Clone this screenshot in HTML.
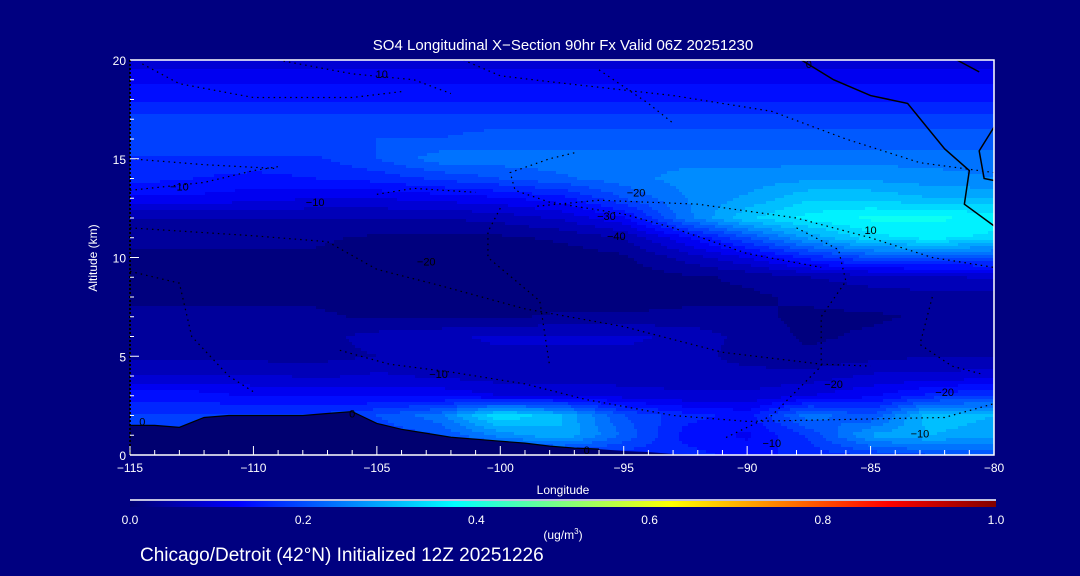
<!DOCTYPE html>
<html><head><meta charset="utf-8">
<style>
html,body{margin:0;padding:0;background:#000080;}
svg{display:block;font-family:"Liberation Sans",sans-serif;}
</style></head>
<body>
<svg id="chart" width="1080" height="576" viewBox="0 0 1080 576">
<rect x="0" y="0" width="1080" height="576" fill="#000080"/>
<g id="field"></g>
<g id="terrain"></g>
<g id="contours"></g>
<g id="axes"></g>
<text x="563" y="50" fill="#fff" font-size="15" text-anchor="middle">SO4 Longitudinal X−Section 90hr  Fx Valid 06Z 20251230</text>
<text transform="translate(97,258) rotate(-90)" fill="#fff" font-size="12" text-anchor="middle">Altitude (km)</text>
<text x="563" y="494" fill="#fff" font-size="12" text-anchor="middle">Longitude</text>
<defs><linearGradient id="jet" x1="0" x2="1" y1="0" y2="0">
<stop offset="0" stop-color="#000070"/><stop offset="0.125" stop-color="#0000ff"/><stop offset="0.375" stop-color="#00ffff"/><stop offset="0.625" stop-color="#ffff00"/><stop offset="0.875" stop-color="#ff0000"/><stop offset="1" stop-color="#800000"/></linearGradient></defs>
<line x1="130" y1="500" x2="996" y2="500" stroke="#fff" stroke-width="1.5"/>
<rect x="130" y="501" width="866" height="6" fill="url(#jet)"/>
<g id="cbticks"></g>
<text x="563" y="539" fill="#fff" font-size="12" text-anchor="middle">(ug/m<tspan font-size="8" dy="-5">3</tspan><tspan dy="5">)</tspan></text>
<text x="140" y="561" fill="#fff" font-size="19">Chicago/Detroit (42°N) Initialized 12Z 20251226</text>
</svg>
<script>
// ---- data ----
const lons = [-115,-112.5,-110,-107.5,-105,-102.5,-100,-97.5,-95,-92.5,-90,-87.5,-85,-82.5,-80];
const alts = [0,1,2,3,4,5,6,7,8,9,10,11,12,13,14,15,16,17,18,19,20];
// SO4 concentration x100 (ug/m3), rows = alts (0..20 km), cols = lons
const conc = [
 [16,16,16,16,16,16,16,16,16,16,14,16,18,20,20],
 [18,18,18,18,18,20,26,30,22,14,12,18,28,30,28],
 [18,18,18,18,20,24,35,30,20,16,14,24,20,32,30],
 [14,14,12,12,12,12,10,10,9,8,8,10,12,16,18],
 [8,8,8,7,8,7,6,6,6,6,6,6,8,8,9],
 [4,4,4,4,5,6,7,7,7,6,4,3,4,5,5],
 [4,4,4,4,6,7,8,8,8,7,4,2,3,4,5],
 [3,3,3,3,2,2,2,3,3,3,3,2,2,3,4],
 [2,2,2,2,1,1,1,1,1,2,2,3,4,4,4],
 [2,2,2,2,1,1,1,1,1,2,3,5,6,7,8],
 [2,2,2,2,1,1,1,1,2,6,10,16,20,20,20],
 [3,3,3,3,2,2,2,3,5,12,20,28,34,36,34],
 [5,5,5,5,5,5,6,8,12,24,32,36,38,38,37],
 [12,12,11,10,10,11,12,14,20,25,28,32,32,30,30],
 [16,15,14,15,16,18,20,22,24,26,26,27,27,26,25],
 [17,17,17,17,20,24,24,24,24,24,24,24,24,24,24],
 [20,20,20,20,20,20,21,21,21,21,21,21,21,21,21],
 [19,19,19,19,19,19,19,19,19,19,19,19,19,19,19],
 [14,14,14,14,14,14,14,14,14,14,14,14,14,14,14],
 [12,12,12,12,12,12,12,12,12,12,12,12,12,12,12],
 [8,8,8,8,8,8,8,8,8,8,8,8,8,8,8]
];
const terrLons = [-115,-114,-113,-112,-111,-110,-109,-108,-107,-106,-105,-104,-103,-102,-101,-100,-99,-98,-97,-96,-95,-94,-93,-92,-90,-85,-80];
const terrAlt  = [1.5,1.5,1.4,1.9,2.0,2.0,2.0,2.0,2.1,2.2,1.6,1.3,1.1,0.9,0.8,0.7,0.6,0.45,0.35,0.3,0.2,0.15,0.05,0.02,0,0,0];
const xTicks = [-115,-110,-105,-100,-95,-90,-85,-80];
const yTicks = [0,5,10,15,20];
const cbTicks = ["0.0","0.2","0.4","0.6","0.8","1.0"];
// contours: [lon,alt] polylines
const contourSolid = [
 [[-87.8,20],[-86.5,19],[-85,18.2],[-83.5,17.8],[-82,15.5],[-81,14.4],[-81.2,12.7],[-80,11.6]],
 [[-81.5,20],[-80.6,19.4]],
 [[-80,16.6],[-80.6,15.4],[-80.4,14],[-80,13.9]]
];
const contourDotted = [
 [[-114.5,19.8],[-113,18.8],[-110,18.1],[-106,18.1],[-104,18.4]],
 [[-109,20],[-106,19.3],[-103.5,19],[-102,18.3]],
 [[-101.5,20],[-100,19.2],[-98,18.9],[-93,18.2],[-89,17.4],[-86,16],[-83,14.8],[-80,14.3]],
 [[-96,19.5],[-94,17.8],[-93,16.8]],
 [[-97,15.3],[-98,15],[-99.6,14.3],[-99.4,13.4],[-98,12.8],[-95,12.2],[-93,11.5],[-90,10.2],[-87,9.5]],
 [[-98.5,12.6],[-96,12.9],[-92,12.7],[-88,12],[-85,11],[-82.5,10],[-80,9.5]],
 [[-115,13.4],[-112,13.8],[-110,14.4],[-109,14.6]],
 [[-115,15],[-112,14.7],[-109,14.5]],
 [[-105,13.2],[-103.5,13.5],[-101,13.3]],
 [[-115,11.5],[-110,11.1],[-107,10.8],[-105,9.4],[-102.5,8.6],[-99,7.4],[-95,6.5],[-91,5.2],[-87,4.6],[-85,4.5]],
 [[-115,9.3],[-113,8.7],[-112.5,6],[-111,4.0],[-110,3.2]],
 [[-106.5,5.3],[-104.5,4.6],[-102,4.2],[-99,3.6],[-96.5,2.8],[-93,2.0],[-90,1.7],[-86,1.8],[-82,1.9],[-80,2.6]],
 [[-100,12.5],[-100.5,11.3],[-100.5,10],[-98.4,7.8],[-98,4.5]],
 [[-82.5,8],[-83,5.6],[-81.7,4.5],[-80.5,4.1]],
 [[-88,11.5],[-86.3,10.4],[-86,8.8],[-87,7],[-87,4.5],[-89,2],[-91,0.8]]
];
const contourLabels = [
 {t:"-10",lon:-113,alt:13.6},{t:"-10",lon:-107.5,alt:12.8},{t:"-20",lon:-94.5,alt:13.3},{t:"-30",lon:-95.7,alt:12.1},
 {t:"-40",lon:-95.3,alt:11.1},{t:"-20",lon:-103,alt:9.8},{t:"10",lon:-85,alt:11.4},{t:"-10",lon:-102.5,alt:4.1},
 {t:"-20",lon:-86.5,alt:3.6},{t:"-20",lon:-82,alt:3.2},{t:"-10",lon:-83,alt:1.1},{t:"-10",lon:-89,alt:0.6},
 {t:"0",lon:-114.5,alt:1.7},{t:"0",lon:-106,alt:2.1},{t:"0",lon:-96.5,alt:0.25},{t:"0",lon:-87.5,alt:19.8},{t:"10",lon:-104.8,alt:19.3}
];
// ---- axes ----
const X0=130,X1=994,Y0=455,Y1=60;
const xs = lon => X0+(lon+115)/35*(X1-X0);
const ys = a => Y0-a/20*(Y0-Y1);
const NS="http://www.w3.org/2000/svg";
function mk(tag,attrs,parent){const e=document.createElementNS(NS,tag);for(const k in attrs)e.setAttribute(k,attrs[k]);parent.appendChild(e);return e;}
function jet(v){
 let r=0,g=0,b=0;
 if(v<0.125){b=0.44+0.56*v/0.125;}
 else if(v<0.375){g=(v-0.125)*4;b=1;}
 else if(v<0.625){r=(v-0.375)*4;g=1;b=1-r;}
 else if(v<0.875){r=1;g=1-(v-0.625)*4;}
 else{r=1-(v-0.875)*4;}
 const c=x=>Math.round(Math.max(0,Math.min(1,x))*255);
 return `rgb(${c(r)},${c(g)},${c(b)})`;
}
function interp(lon,alt){
 let i=0;while(i<lons.length-2&&lon>lons[i+1])i++;
 let j=Math.min(Math.floor(alt),alts.length-2);
 const fx=Math.max(0,Math.min(1,(lon-lons[i])/(lons[i+1]-lons[i]))),fy=Math.max(0,Math.min(1,alt-alts[j]));
 const v=conc[j][i]*(1-fx)*(1-fy)+conc[j][i+1]*fx*(1-fy)+conc[j+1][i]*(1-fx)*fy+conc[j+1][i+1]*fx*fy;
 return v/100;
}
const field=document.getElementById('field');
const cw=3,ch=3;
for(let py=Y1;py<Y0;py+=ch){
 const alt=(Y0-(py+ch/2))/(Y0-Y1)*20;
 let runStart=X0,runCol=null;
 for(let px=X0;px<=X1;px+=cw){
  let col=null;
  if(px<X1){const lon=(px+cw/2-X0)/(X1-X0)*35-115;let v=interp(lon,alt);v=Math.floor(v/0.025)*0.025+0.0125;col=jet(v);}
  if(col!==runCol){
   if(runCol){const r=mk('rect',{x:runStart,y:py,width:Math.min(px,X1)-runStart,height:Math.min(ch,Y0-py),fill:runCol},field);
    
    }
   runStart=px;runCol=col;
  }
 }
}
// terrain
let tp=`M${xs(-115)},${Y0} `;
terrLons.forEach((l,k)=>{tp+=`L${xs(l)},${ys(terrAlt[k])} `;});
tp+=`L${xs(-80)},${Y0} Z`;
const terr=mk('path',{d:tp,fill:'#000070'},document.getElementById('terrain'));


let tl='';terrLons.forEach((l,k)=>{if(l<=-96)tl+=(k?'L':'M')+xs(l)+','+ys(terrAlt[k]);});
const tline=mk('path',{d:tl,fill:'none',stroke:'#000','stroke-width':1.2},document.getElementById('terrain'));


// contours
const cg=document.getElementById('contours');
const pts=arr=>arr.map(p=>xs(p[0])+','+ys(p[1])).join(' ');
contourSolid.forEach(c=>{const e=mk('polyline',{points:pts(c),fill:'none',stroke:'#000','stroke-width':1.5},cg);
 
 });
contourDotted.forEach(c=>{const e=mk('polyline',{points:pts(c),fill:'none',stroke:'#000','stroke-width':1.2,'stroke-dasharray':'1.5 4'},cg);
 
 });
contourLabels.forEach(l=>{const e=mk('text',{x:xs(l.lon),y:ys(l.alt)+4,fill:'#000','font-size':11,'text-anchor':'middle'},cg);e.textContent=l.t.replace('-','−');
 
 });
// axes frame & ticks
const ax=document.getElementById('axes');
const fr=mk('path',{d:`M${X0},${Y1} H${X1} V${Y0} H${X0}`,fill:'none',stroke:'#fff','stroke-width':1.5},ax);


const la=mk('line',{x1:X0,y1:Y1,x2:X0,y2:Y0,stroke:'#000','stroke-width':2,'stroke-dasharray':'2 2'},ax);


for(let l=-115;l<=-80;l++){const maj=xTicks.includes(l);
 const t=mk('line',{x1:xs(l),x2:xs(l),y1:Y0,y2:Y0-(maj?9:5),stroke:'#fff','stroke-width':1},ax);
 
 }
xTicks.forEach(l=>{const t=mk('text',{x:xs(l),y:Y0+17,fill:'#fff','font-size':12,'text-anchor':'middle'},ax);t.textContent=String(l).replace('-','−');
 
 });
for(let a=0;a<=20;a++){const maj=yTicks.includes(a);
 const t=mk('line',{x1:X0,x2:X0+(maj?9:4),y1:ys(a),y2:ys(a),stroke:'#fff','stroke-width':1},ax);
 
 }
yTicks.forEach(a=>{const t=mk('text',{x:X0-4,y:ys(a)+5,fill:'#fff','font-size':12,'text-anchor':'end'},ax);t.textContent=a;
 
 });
const cb=document.getElementById('cbticks');
cbTicks.forEach((s,k)=>{const t=mk('text',{x:130+k*866/5,y:524,fill:'#fff','font-size':12,'text-anchor':'middle'},cb);t.textContent=s;
 
 });
</script>
</body></html>
